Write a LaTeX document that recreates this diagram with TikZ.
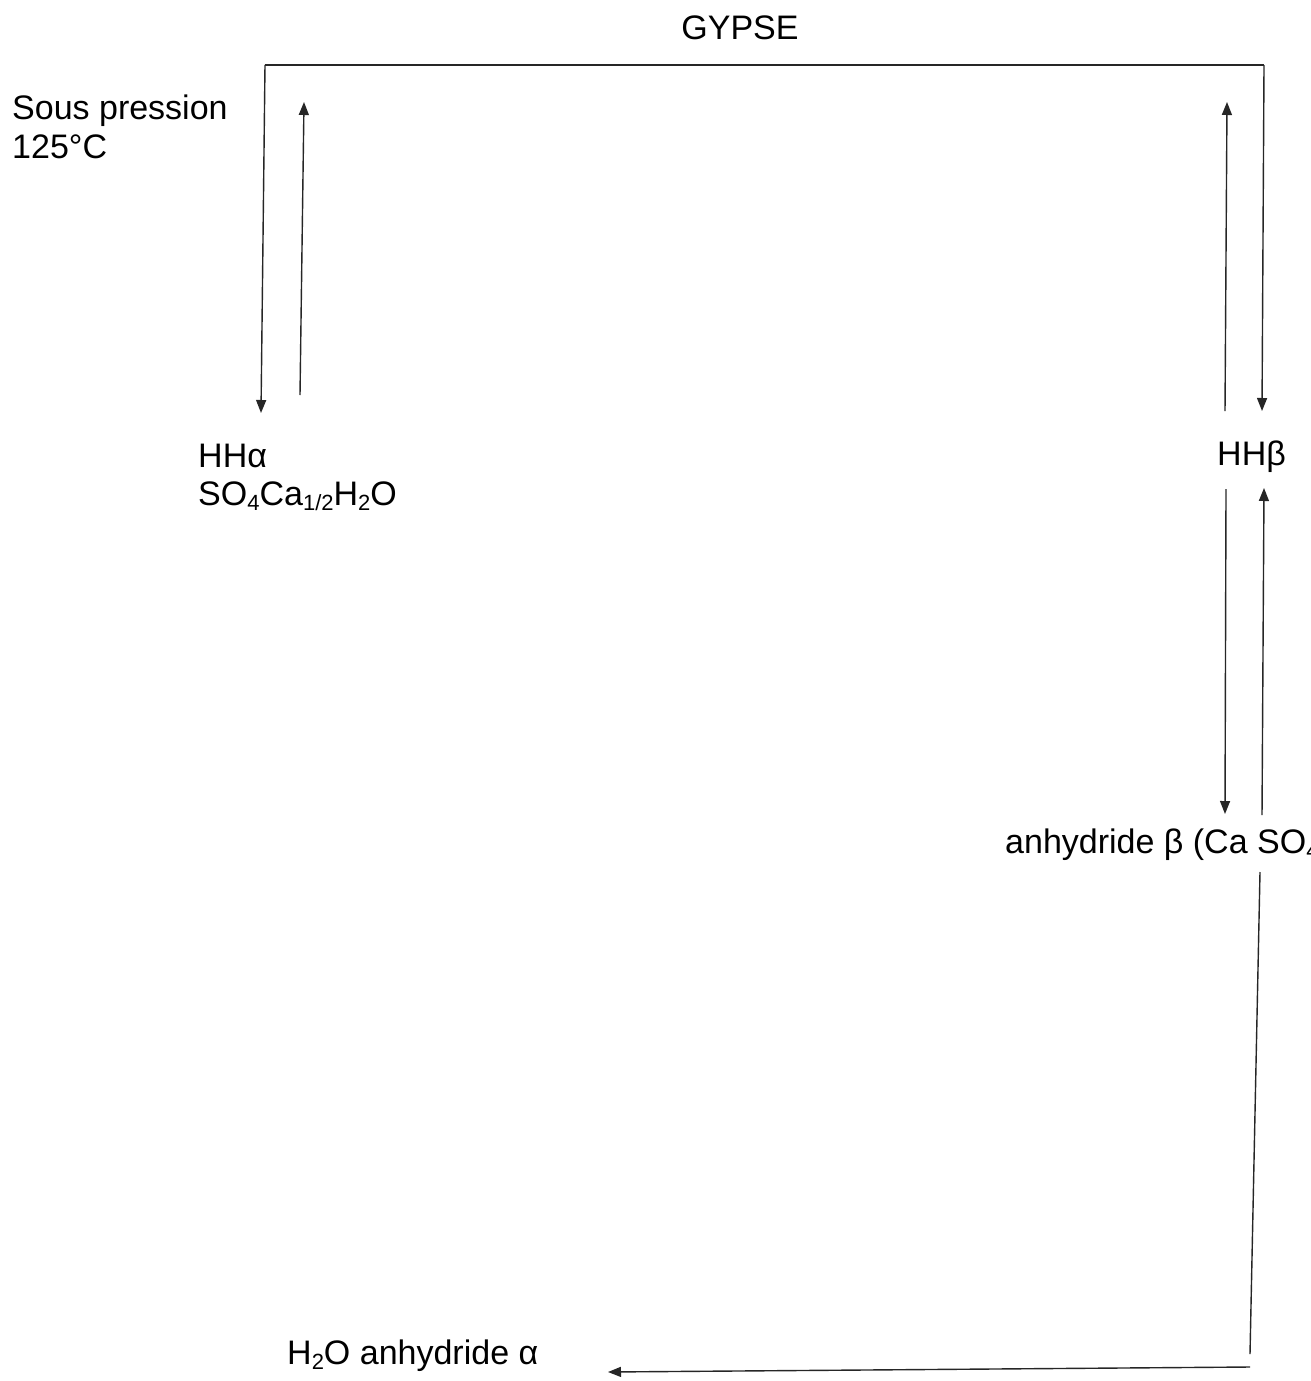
\documentclass[tikz,border=0pt]{standalone}
\usepackage{fontspec}
\setmainfont{Liberation Sans}
\usetikzlibrary{arrows.meta}
\newcommand\lowsub[1]{\raisebox{-0.3ex}{\fontsize{22}{24}\selectfont #1}}
\begin{document}
\begin{tikzpicture}[x=1pt,y=-1pt,
  lbl/.style={inner sep=0pt,font=\fontsize{34}{40}\selectfont},
  conn/.style={line width=1.4pt,black!85},
  arr/.style={conn,-{Triangle[length=13pt,width=10pt]}}]
\clip (0,0) rectangle (1311,1381);
\useasboundingbox (0,0) rectangle (1311,1381);
% texts
\node[lbl,anchor=base] (gypse) at (740,40) {GYPSE};
\node[lbl,anchor=base west] (sous) at (12,119) {Sous pression};
\node[lbl,anchor=base west] (temp) at (12,158) {125°C};
\node[lbl,anchor=base west] (hha) at (198,467) {HHα};
\node[lbl,anchor=base west] (form) at (198,505) {SO\lowsub{4}Ca\lowsub{1/2}H\lowsub{2}O};
\node[lbl,anchor=base west] (hhb) at (1217,465) {HHβ};
\node[lbl,anchor=base west] (anhb) at (1005,853) {anhydride β (Ca SO\lowsub{4})};
\node[lbl,anchor=base west] (anha) at (287,1364) {H\lowsub{2}O anhydride α};
% connector coordinates
\coordinate (tl) at (265,65);
\coordinate (tr) at (1264,65);
\coordinate (ld) at (261,413);
\coordinate (lus) at (300,395);
\coordinate (lue) at (304,102);
\coordinate (rd) at (1262,411);
\coordinate (rus) at (1225,411);
\coordinate (rue) at (1227,102);
\coordinate (bds) at (1226,489);
\coordinate (bde) at (1225,814);
\coordinate (bus) at (1262,815);
\coordinate (bue) at (1264,488);
\coordinate (ls) at (1260,872);
\coordinate (le) at (1250,1354);
\coordinate (hs) at (1250,1367);
\coordinate (he) at (608,1372);
% connectors
\draw[conn] (tl) -- (tr);
\draw[arr] (tl) -- (ld);
\draw[arr] (lus) -- (lue);
\draw[arr] (tr) -- (rd);
\draw[arr] (rus) -- (rue);
\draw[arr] (bds) -- (bde);
\draw[arr] (bus) -- (bue);
\draw[conn] (ls) -- (le);
\draw[arr] (hs) -- (he);
\end{tikzpicture}
\end{document}
